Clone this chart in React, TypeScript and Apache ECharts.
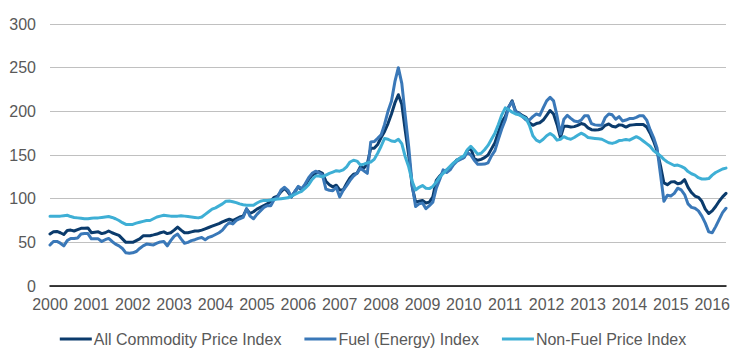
import { useEffect, useRef } from "react";
import * as echarts from "echarts";

const startYear = 2000;
const monthCount = 197; // Jan 2000 .. May 2016

const allCommodity = [
  59.5, 62, 62.5, 61, 59, 63.5, 64, 63, 64.5, 66, 66, 66.5,
  61, 61.5, 62, 60, 61, 63, 61, 59.5, 58, 54, 50, 50,
  50, 52, 54, 57.5, 57.6, 57.6, 58.5, 59.5, 61, 62, 60, 61,
  64, 67.5, 64, 61, 61, 62, 63, 63, 64, 65.5, 67, 68.5,
  70, 71.5, 73.5, 75, 76.5, 75, 77, 79, 80, 88, 83, 85,
  88, 90, 92, 94, 97, 101.5, 103, 108, 112, 107.5, 102, 108,
  113.5, 110, 115, 122, 127, 129, 131, 129, 120, 116, 113.5, 115.4,
  110, 110, 117.3, 124, 128, 129, 136.5, 135, 140, 157.7, 157.7, 162,
  170, 177, 186, 197, 209.6, 219, 208, 178, 150, 114, 96, 97,
  98, 95, 96, 102, 121, 126, 130, 132.7, 135.5, 140, 144.5, 146,
  147, 155, 158, 146, 144, 145, 147, 150, 157, 164, 176, 188,
  194, 205, 212, 200, 198, 195, 193, 187, 184, 186, 187, 190,
  195.5, 201, 197, 185, 170, 183, 183, 182, 182.5, 184, 186, 185,
  181, 179, 178.5, 179, 180, 184, 185.5, 183, 182, 184.5, 184, 182,
  184, 184.5, 185, 185, 185, 182, 175, 166, 155, 138, 118, 116,
  119, 119.5, 117, 118, 121.7, 113, 107, 103, 101.5, 97, 88, 83,
  86, 91, 97, 102, 106,
];

const fuelEnergy = [
  47, 51, 51, 49, 46, 52, 54.5, 54.5, 55, 59.5, 60, 60,
  54, 54, 54, 51, 53, 54.5, 51, 48, 46, 43, 38, 37.5,
  38, 39.5, 43, 46, 48, 47.5, 47, 49, 50.5, 51, 46, 52,
  57, 59.5, 54, 49, 50, 52, 53, 54.5, 55.5, 53, 55.7, 57,
  59, 61, 64, 69, 72.7, 71, 75, 77, 78.5, 88.6, 80, 77,
  82, 86, 90, 92, 92, 99, 102, 110, 113, 109.6, 102, 108,
  114, 111.5, 117, 124, 129, 131.5, 129.6, 127, 111, 109.6, 109, 113,
  102, 109.6, 115, 121, 126, 129, 134.6, 132, 129, 165, 165.4, 169,
  173, 185, 200, 211.5, 234, 250, 232, 195, 159.6, 116, 91, 94,
  95, 88.5, 92, 96, 112, 122, 133, 130, 133, 139, 143, 145,
  147, 153, 150, 144, 139.5, 139.5, 139.6, 141, 149, 155, 168, 180,
  190, 205, 211, 199, 197.5, 194, 190, 190, 194, 197, 195.5, 204,
  212, 216, 212, 195, 174, 191, 195.5, 192, 189, 188, 190, 195,
  195, 186, 184.5, 184, 184, 193, 197, 196, 191, 194, 189, 190,
  191.7, 191.7, 193, 195, 195, 190, 179, 170, 158, 128, 97, 104,
  103, 106, 112, 110, 104.7, 94, 90, 89, 86, 80, 72, 62,
  61, 68, 76, 84, 89,
];

const nonFuel = [
  80, 80, 80, 80, 80.5, 81, 79.5, 78.5, 78, 77.5, 77, 77,
  77.5, 78, 78, 78.5, 79, 79.5, 78.5, 77, 75, 72.5, 70.5, 70.5,
  70.5, 72, 73, 74, 75, 75, 77, 79, 80, 81, 80.5, 80,
  80, 80, 80.5, 80, 79.5, 79, 78.5, 78, 79, 82, 85, 88,
  89.5, 91.7, 94, 97, 97.3, 96.5, 95.5, 94, 93, 92.4, 92.4, 92.4,
  95, 97, 98, 98, 98.5, 99, 99.5, 100, 100.5, 101, 103, 105,
  107, 108.5, 112, 116, 122, 126, 126, 125, 127, 129, 130.5, 132,
  131.5, 133, 136.5, 142, 144, 143, 138.5, 139.5, 141, 142, 145, 152,
  160, 169, 168, 166, 165.5, 168, 163, 148, 136.5, 120, 110, 113,
  115, 112, 111.5, 114, 119, 125, 129, 133, 137, 141, 144, 147,
  149, 156, 160, 155.8, 151, 152, 156, 161, 168, 175, 185, 196,
  204, 202, 199, 197, 196, 194, 192, 184, 172, 167, 165, 168,
  172, 174.5, 172, 167, 168, 171, 169, 168, 170, 172.5, 175, 173,
  170, 169.5, 169, 168.5, 168, 166, 164, 163.3, 164.5, 166.5, 167, 167.8,
  167, 169, 171, 169, 166, 163, 160, 155, 152, 149, 145, 142,
  140, 138, 138.5, 137, 135, 131, 128.5, 127, 124, 122.5, 122.5, 123,
  127, 130, 132, 134, 135,
];

const seriesNames = ["All Commodity Price Index", "Fuel (Energy) Index", "Non-Fuel Price Index"];
const seriesColors = ["#0b3b6c", "#3a78b8", "#3eafd5"];

const months: string[] = [];
for (let i = 0; i < monthCount; i++) {
  const y = startYear + Math.floor(i / 12);
  const m = (i % 12) + 1;
  months.push(`${y}-${m < 10 ? "0" + m : m}`);
}

export default function App() {
  const ref = useRef<HTMLDivElement>(null);
  useEffect(() => {
    if (!ref.current) return;
    const chart = echarts.init(ref.current, null, { renderer: "svg" });
    const font = "'Liberation Sans', Arial, sans-serif";
    const dataSets = [allCommodity, fuelEnergy, nonFuel];
    chart.setOption({
      animation: false,
      backgroundColor: "#ffffff",
      textStyle: { fontFamily: font },
      grid: { left: 50, right: 20, top: 24, bottom: 73, containLabel: false },
      legend: {
        data: seriesNames,
        bottom: 7,
        left: "center",
        icon: "rect",
        itemWidth: 32,
        itemHeight: 3,
        itemGap: 23,
        textStyle: { fontFamily: font, fontSize: 16, color: "#595959", padding: [0, 0, 0, -3] },
      },
      xAxis: {
        type: "category",
        data: months,
        boundaryGap: false,
        axisLine: { show: true, lineStyle: { color: "#000000", width: 1.5 } },
        axisTick: { show: false },
        axisLabel: {
          interval: 11,
          margin: 10,
          fontSize: 16,
          color: "#595959",
          fontFamily: font,
          formatter: (v: string) => v.slice(0, 4),
        },
        splitLine: { show: false },
      },
      yAxis: {
        type: "value",
        min: 0,
        max: 300,
        interval: 50,
        axisLine: { show: false },
        axisTick: { show: false },
        axisLabel: { margin: 14, fontSize: 16, color: "#595959", fontFamily: font },
        splitLine: { lineStyle: { color: "#c0c0c0", width: 1 } },
      },
      series: seriesNames.map((name, i) => ({
        name,
        type: "line",
        data: dataSets[i],
        showSymbol: false,
        symbol: "none",
        color: seriesColors[i],
        lineStyle: { width: 3, color: seriesColors[i], join: "round", cap: "round" },
        z: 2 + i,
      })),
    });
    return () => chart.dispose();
  }, []);
  return (
    <div
      ref={ref}
      style={{ position: "fixed", left: 0, top: 0, width: 746, height: 359 }}
    />
  );
}
